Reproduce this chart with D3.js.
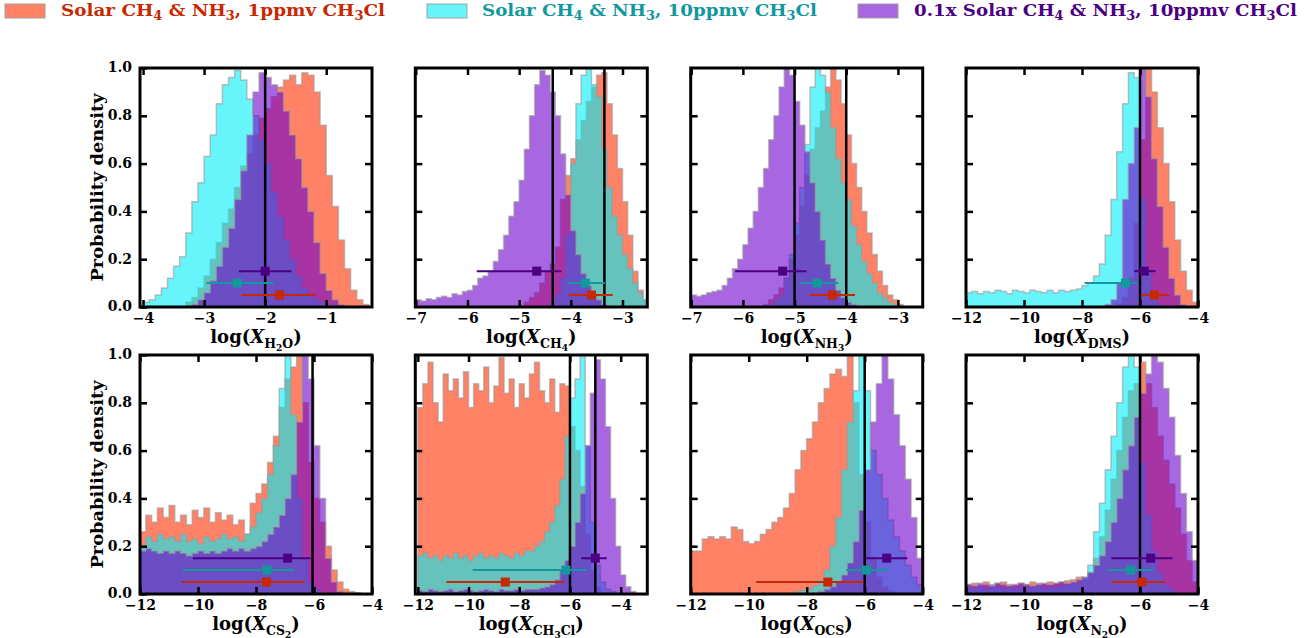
<!DOCTYPE html>
<html><head><meta charset="utf-8">
<script src="https://cdn.jsdelivr.net/npm/d3@7"></script>
<style>
body{margin:0;background:#fff}
svg{display:block}
text{font-family:"DejaVu Serif",serif;font-weight:bold}
</style>
</head><body><svg id="chart" width="1309" height="638"></svg>
<script>
// ---------------- DATA ----------------
const seriesNames = ["Solar CH4 & NH3, 1ppmv CH3Cl", "Solar CH4 & NH3, 10ppmv CH3Cl", "0.1x Solar CH4 & NH3, 10ppmv CH3Cl"];
const yTicks = [0, 0.2, 0.4, 0.6, 0.8, 1.0];
const errY = [0.05, 0.10, 0.15];

// H2O
const h2oDomain = [-4.05, -0.25];
const h2oTicks = [-4, -3, -2, -1];
const h2oLines = [-2.0];
const h2oWidth = 0.1;
const h2oStarts = [-3.3, -4.0, -3.2];
const h2oOrange = [0.02,0.04,0.08,0.13,0.2,0.27,0.35,0.41,0.5,0.59,0.64,0.72,0.79,0.83,0.88,0.92,0.95,0.97,0.93,0.98,0.97,0.9,0.76,0.55,0.42,0.28,0.16,0.07,0.03,0.01];
const h2oCyan = [0.02,0.03,0.05,0.08,0.12,0.17,0.21,0.31,0.44,0.52,0.63,0.72,0.85,0.93,0.96,0.99,0.95,0.87,0.8,0.7,0.6,0.48,0.38,0.28,0.2,0.13,0.08,0.05,0.03,0.02,0.01,0.005];
const h2oPurple = [0.01,0.03,0.06,0.11,0.17,0.25,0.33,0.45,0.57,0.72,0.9,0.98,0.96,0.93,0.9,0.82,0.72,0.62,0.5,0.4,0.27,0.14,0.07,0.03,0.01];
const h2oErr = [[-2.39,-1.76,-1.18],[-2.96,-2.46,-1.86],[-2.43,-2.0,-1.57]];

// CH4
const ch4Domain = [-7.01, -2.52];
const ch4Ticks = [-7, -6, -5, -4, -3];
const ch4Lines = [-4.35, -3.35];
const ch4Width = 0.1;
const ch4Starts = [-4.9, -4.4, -7.0];
const ch4Orange = [0.02,0.04,0.06,0.1,0.15,0.18,0.25,0.45,0.55,0.62,0.7,0.78,0.86,0.92,0.97,0.98,0.85,0.72,0.58,0.44,0.3,0.15,0.07,0.03];
const ch4Cyan = [0.02,0.05,0.12,0.3,0.6,0.85,0.97,1.0,0.93,0.88,0.66,0.5,0.38,0.3,0.22,0.16,0.1,0.06,0.03];
const ch4Purple = [0.03,0.025,0.035,0.03,0.04,0.045,0.04,0.055,0.05,0.065,0.07,0.09,0.12,0.13,0.15,0.19,0.24,0.3,0.38,0.44,0.53,0.66,0.8,0.93,0.99,0.97,0.9,0.8,0.64,0.47,0.32,0.22,0.14,0.09,0.05,0.03,0.01];
const ch4Err = [[-4.04,-3.6,-3.19],[-4.06,-3.72,-3.34],[-5.82,-4.66,-4.18]];

// NH3
const nh3Domain = [-7.01, -2.52];
const nh3Ticks = [-7, -6, -5, -4, -3];
const nh3Lines = [-5.0, -4.0];
const nh3Width = 0.1;
const nh3Starts = [-5.6, -5.5, -7.0];
const nh3Orange = [0.01,0.03,0.05,0.08,0.12,0.2,0.3,0.42,0.55,0.66,0.75,0.82,0.92,1.0,0.95,0.85,0.72,0.6,0.5,0.4,0.31,0.22,0.15,0.09,0.05,0.03,0.01];
const nh3Cyan = [0.01,0.03,0.05,0.12,0.22,0.35,0.5,0.68,0.92,1.0,0.97,0.9,0.75,0.62,0.52,0.45,0.34,0.26,0.19,0.14,0.1,0.06,0.04,0.02,0.01];
const nh3Purple = [0.05,0.045,0.05,0.06,0.065,0.07,0.09,0.12,0.16,0.2,0.26,0.33,0.4,0.5,0.58,0.7,0.8,0.92,1.0,0.97,0.86,0.76,0.65,0.52,0.4,0.28,0.18,0.12,0.07,0.04,0.02,0.01];
const nh3Err = [[-4.71,-4.27,-3.83],[-4.92,-4.56,-4.15],[-6.15,-5.23,-4.77]];

// DMS
const dmsDomain = [-12, -4];
const dmsTicks = [-12, -10, -8, -6, -4];
const dmsLines = [-6.0];
const dmsWidth = 0.2;
const dmsStarts = [-6.8, -12.0, -7.2];
const dmsOrange = [0.01,0.04,0.12,0.35,0.7,1.0,0.9,0.75,0.6,0.44,0.28,0.15,0.07,0.02];
const dmsCyan = [0.06,0.065,0.055,0.065,0.06,0.07,0.065,0.055,0.07,0.065,0.06,0.07,0.065,0.06,0.07,0.06,0.07,0.065,0.07,0.075,0.09,0.1,0.13,0.18,0.3,0.45,0.65,0.85,0.98,0.96,0.45,0.15,0.05,0.01];
const dmsPurple = [0.01,0.03,0.1,0.45,0.6,0.75,1.0,0.88,0.62,0.42,0.25,0.12,0.05,0.01];
const dmsErr = [[-5.94,-5.5,-5.0],[-7.91,-6.5,-6.08],[-6.2,-5.85,-5.46]];

// CS2
const cs2Domain = [-12, -4];
const cs2Ticks = [-12, -10, -8, -6, -4];
const cs2Lines = [-6.05];
const cs2Width = 0.2;
const cs2Starts = [-12.0, -12.0, -12.0];
const cs2Orange = [0.26,0.33,0.3,0.36,0.32,0.37,0.3,0.33,0.29,0.35,0.32,0.36,0.3,0.34,0.31,0.33,0.29,0.31,0.25,0.38,0.42,0.46,0.55,0.66,0.78,0.9,0.95,1.0,0.8,0.55,0.4,0.3,0.2,0.1,0.05,0.02,0.01,0.005];
const cs2Cyan = [0.2,0.24,0.22,0.25,0.23,0.24,0.22,0.25,0.22,0.23,0.21,0.24,0.22,0.23,0.25,0.23,0.24,0.22,0.25,0.28,0.34,0.4,0.5,0.62,0.86,1.0,0.75,0.4,0.15,0.05,0.02];
const cs2Purple = [0.18,0.19,0.18,0.17,0.18,0.17,0.18,0.17,0.16,0.17,0.18,0.17,0.18,0.17,0.18,0.19,0.18,0.19,0.18,0.19,0.2,0.22,0.25,0.28,0.33,0.4,0.5,0.72,1.0,0.9,0.62,0.4,0.15,0.05,0.01];
const cs2Err = [[-10.55,-7.64,-6.32],[-10.53,-7.62,-6.67],[-10.18,-6.91,-6.12]];

// CH3Cl
const ch3clDomain = [-12.1, -2.95];
const ch3clTicks = [-12, -10, -8, -6, -4];
const ch3clLines = [-6.0, -5.0];
const ch3clWidth = 0.2;
const ch3clStarts = [-12.0, -12.0, -12.0];
const ch3clOrange = [0.78,0.88,0.97,0.8,0.72,0.92,0.85,0.9,0.82,0.93,0.78,0.88,0.85,0.95,0.8,0.87,0.99,0.84,0.9,0.78,0.88,0.82,0.92,0.97,0.85,0.8,0.9,0.76,0.88,0.87,0.7,0.6,0.45,0.25,0.1,0.03];
const ch3clCyan = [0.16,0.17,0.15,0.16,0.14,0.16,0.15,0.17,0.15,0.16,0.14,0.16,0.17,0.15,0.16,0.15,0.17,0.16,0.15,0.17,0.16,0.18,0.18,0.2,0.22,0.26,0.3,0.37,0.48,0.66,0.82,0.9,1.0,0.62,0.3,0.12,0.05,0.02,0.01];
const ch3clPurple = [0.015,0.01,0.02,0.015,0.01,0.015,0.02,0.01,0.015,0.02,0.015,0.01,0.015,0.02,0.015,0.01,0.02,0.015,0.015,0.02,0.015,0.02,0.02,0.02,0.025,0.03,0.04,0.06,0.1,0.14,0.2,0.3,0.42,0.62,0.84,0.98,0.9,0.7,0.4,0.2,0.08,0.03,0.01];
const ch3clErr = [[-10.87,-8.55,-6.22],[-9.84,-6.16,-5.31],[-5.56,-5.0,-4.55]];

// OCS
const ocsDomain = [-12, -4];
const ocsTicks = [-12, -10, -8, -6, -4];
const ocsLines = [-6.0];
const ocsWidth = 0.2;
const ocsStarts = [-12.0, -8.4, -7.6];
const ocsOrange = [0.18,0.18,0.23,0.24,0.23,0.24,0.23,0.28,0.27,0.22,0.21,0.22,0.25,0.27,0.3,0.32,0.36,0.42,0.52,0.6,0.65,0.72,0.8,0.86,0.92,0.94,0.91,1.0,0.8,0.5,0.3,0.15,0.07,0.03,0.01];
const ocsCyan = [0.01,0.015,0.02,0.035,0.06,0.1,0.2,0.32,0.52,0.72,0.85,1.0,0.85,0.6,0.5,0.4,0.31,0.24,0.18,0.12,0.07,0.04];
const ocsPurple = [0.01,0.02,0.03,0.05,0.08,0.13,0.22,0.35,0.52,0.72,0.88,1.0,0.9,0.75,0.62,0.48,0.32,0.15];
const ocsErr = [[-9.74,-7.27,-6.05],[-6.64,-5.94,-5.21],[-5.97,-5.24,-4.53]];

// N2O
const n2oDomain = [-12, -4];
const n2oTicks = [-12, -10, -8, -6, -4];
const n2oLines = [-6.0];
const n2oWidth = 0.2;
const n2oStarts = [-12.0, -12.0, -12.0];
const n2oOrange = [0.04,0.045,0.035,0.05,0.04,0.045,0.05,0.04,0.035,0.045,0.04,0.05,0.045,0.04,0.05,0.045,0.05,0.055,0.06,0.07,0.06,0.09,0.15,0.24,0.35,0.48,0.6,0.74,0.85,0.88,0.97,0.88,0.78,0.66,0.56,0.46,0.36,0.25,0.14,0.05];
const n2oCyan = [0.03,0.025,0.03,0.02,0.035,0.03,0.025,0.03,0.02,0.03,0.025,0.03,0.035,0.025,0.03,0.03,0.035,0.04,0.045,0.05,0.07,0.12,0.26,0.38,0.52,0.66,0.8,0.95,1.0,0.95,0.55,0.33,0.18,0.09,0.04,0.02];
const n2oPurple = [0.04,0.035,0.045,0.04,0.035,0.045,0.04,0.035,0.04,0.045,0.04,0.035,0.04,0.045,0.04,0.045,0.05,0.045,0.05,0.06,0.07,0.09,0.12,0.16,0.22,0.3,0.4,0.52,0.62,0.74,0.84,0.92,1.0,0.97,0.86,0.74,0.58,0.42,0.26,0.14];
const n2oErr = [[-6.99,-5.94,-5.13],[-7.14,-6.32,-5.56],[-6.99,-5.63,-4.88]];

// species labels (subscript parts: [text, level])
const h2oLabel = [["H",1],["2",2],["O",1]];
const ch4Label = [["CH",1],["4",2]];
const nh3Label = [["NH",1],["3",2]];
const dmsLabel = [["DMS",1]];
const cs2Label = [["CS",1],["2",2]];
const ch3clLabel = [["CH",1],["3",2],["Cl",1]];
const ocsLabel = [["OCS",1]];
const n2oLabel = [["N",1],["2",2],["O",1]];

// ---------------- STYLE / LAYOUT ----------------
const fillColors = ["#ff2d00", "#00eef7", "#6e00cc"];
const errColors = ["#c82800", "#12979c", "#4b0082"];
const colX = [140, 415.3, 690.7, 966];
const rowY = [68, 355];
const PW = 232, PH = 239;

const panels = [
  {label:h2oLabel, domain:h2oDomain, ticks:h2oTicks, lines:h2oLines, w:h2oWidth, starts:h2oStarts, hists:[h2oOrange,h2oCyan,h2oPurple], err:h2oErr},
  {label:ch4Label, domain:ch4Domain, ticks:ch4Ticks, lines:ch4Lines, w:ch4Width, starts:ch4Starts, hists:[ch4Orange,ch4Cyan,ch4Purple], err:ch4Err},
  {label:nh3Label, domain:nh3Domain, ticks:nh3Ticks, lines:nh3Lines, w:nh3Width, starts:nh3Starts, hists:[nh3Orange,nh3Cyan,nh3Purple], err:nh3Err},
  {label:dmsLabel, domain:dmsDomain, ticks:dmsTicks, lines:dmsLines, w:dmsWidth, starts:dmsStarts, hists:[dmsOrange,dmsCyan,dmsPurple], err:dmsErr},
  {label:cs2Label, domain:cs2Domain, ticks:cs2Ticks, lines:cs2Lines, w:cs2Width, starts:cs2Starts, hists:[cs2Orange,cs2Cyan,cs2Purple], err:cs2Err},
  {label:ch3clLabel, domain:ch3clDomain, ticks:ch3clTicks, lines:ch3clLines, w:ch3clWidth, starts:ch3clStarts, hists:[ch3clOrange,ch3clCyan,ch3clPurple], err:ch3clErr},
  {label:ocsLabel, domain:ocsDomain, ticks:ocsTicks, lines:ocsLines, w:ocsWidth, starts:ocsStarts, hists:[ocsOrange,ocsCyan,ocsPurple], err:ocsErr},
  {label:n2oLabel, domain:n2oDomain, ticks:n2oTicks, lines:n2oLines, w:n2oWidth, starts:n2oStarts, hists:[n2oOrange,n2oCyan,n2oPurple], err:n2oErr},
];

const svg = d3.select("#chart");
const defs = svg.append("defs");

// ---------------- LEGEND ----------------
const legendSwX = [5, 427, 858];
const legendTxX = [61, 482, 914];
const legendLen = [324, 335, 383];
const legendParts = [
  [["Solar CH",0],["4",1],[" & NH",0],["3",1],[", 1ppmv CH",0],["3",1],["Cl",0]],
  [["Solar CH",0],["4",1],[" & NH",0],["3",1],[", 10ppmv CH",0],["3",1],["Cl",0]],
  [["0.1x Solar CH",0],["4",1],[" & NH",0],["3",1],[", 10ppmv CH",0],["3",1],["Cl",0]],
];
seriesNames.forEach((name, i) => {
  svg.append("rect").attr("x", legendSwX[i]).attr("y", 4).attr("width", 40).attr("height", 14)
    .attr("fill", fillColors[i]).attr("fill-opacity", 0.6)
    .attr("stroke", "#999").attr("stroke-opacity", 0.6).attr("stroke-width", 1.5);
  const t = svg.append("text").attr("x", legendTxX[i]).attr("y", 16)
    .attr("fill", errColors[i]).attr("font-size", 17)
    .attr("textLength", legendLen[i]).attr("lengthAdjust", "spacingAndGlyphs");
  let cur = 0;
  legendParts[i].forEach(([s, lvl]) => {
    const off = lvl ? 4 : 0;
    t.append("tspan").attr("dy", off - cur).attr("font-size", lvl ? 12 : 17).text(s);
    cur = off;
  });
});

// ---------------- PANELS ----------------
panels.forEach((p, k) => {
  const col = k % 4, row = Math.floor(k / 4);
  const x0 = colX[col], y0 = rowY[row];
  const g = svg.append("g").attr("transform", `translate(${x0},${y0})`);
  const x = d3.scaleLinear().domain(p.domain).range([0, PW]);
  const y = d3.scaleLinear().domain([0, 1]).range([PH, 0]);

  const cid = "clip" + k;
  defs.append("clipPath").attr("id", cid).append("rect").attr("width", PW).attr("height", PH);
  const plot = g.append("g").attr("clip-path", `url(#${cid})`);

  const line = d3.line().x(d => x(d[0])).y(d => y(d[1]));
  p.hists.forEach((vals, i) => {
    const st = p.starts[i];
    const pts = [[st, 0]];
    vals.forEach((v, j) => { pts.push([st + j * p.w, v]); pts.push([st + (j + 1) * p.w, v]); });
    pts.push([st + vals.length * p.w, 0]);
    plot.append("path").attr("d", line(pts) + "Z")
      .attr("fill", fillColors[i]).attr("fill-opacity", 0.6)
      .attr("stroke", "#999").attr("stroke-opacity", 0.6).attr("stroke-width", 1.5)
      .attr("stroke-linejoin", "miter");
  });

  // reference lines
  p.lines.forEach(v => {
    plot.append("line").attr("x1", x(v)).attr("x2", x(v)).attr("y1", 0).attr("y2", PH)
      .attr("stroke", "#000").attr("stroke-width", 2.5);
  });

  // error bars
  p.err.forEach((e, i) => {
    plot.append("line").attr("x1", x(e[0])).attr("x2", x(e[2])).attr("y1", y(errY[i])).attr("y2", y(errY[i]))
      .attr("stroke", errColors[i]).attr("stroke-width", 2);
    plot.append("rect").attr("x", x(e[1]) - 4.5).attr("y", y(errY[i]) - 4.5).attr("width", 9).attr("height", 9)
      .attr("fill", errColors[i]);
  });

  // axes
  const tickFmt = d3.format("d");
  const axB = g.append("g").attr("transform", `translate(0,${PH})`)
    .call(d3.axisBottom(x).tickValues(p.ticks).tickSize(-7).tickPadding(6).tickFormat(tickFmt));
  const axT = g.append("g").call(d3.axisTop(x).tickValues(p.ticks).tickSize(-7).tickFormat(""));
  const yt = yTicks.slice(1, -1);
  const axL = g.append("g").call(d3.axisLeft(y).tickValues(col === 0 ? yTicks : yt).tickSize(-7).tickPadding(8)
    .tickFormat(col === 0 ? d3.format(".1f") : ""));
  const axR = g.append("g").attr("transform", `translate(${PW},0)`)
    .call(d3.axisRight(y).tickValues(yt).tickSize(-7).tickFormat(""));
  [axB, axT, axL, axR].forEach(a => {
    a.select(".domain").remove();
    a.selectAll(".tick line").attr("stroke", "#000").attr("stroke-width", 2.5);
    a.selectAll(".tick text").attr("font-size", 14).attr("fill", "#000")
      .attr("font-family", "DejaVu Serif").attr("font-weight", "bold");
  });
  axL.selectAll(".tick text").attr("dy", "0.28em");

  // frame
  g.append("rect").attr("width", PW).attr("height", PH).attr("fill", "none")
    .attr("stroke", "#000").attr("stroke-width", 3);

  // x label
  const t = g.append("text").attr("x", PW / 2).attr("y", PH + 36).attr("text-anchor", "middle")
    .attr("font-size", 18).attr("fill", "#000");
  t.append("tspan").text("log(");
  t.append("tspan").attr("font-style", "italic").text("X");
  let cur = 0;
  const offs = [0, 4.5, 7.5], sizes = [18, 12.5, 9];
  p.label.forEach(([s, lvl]) => {
    t.append("tspan").attr("dy", offs[lvl] - cur).attr("font-size", sizes[lvl]).text(s);
    cur = offs[lvl];
  });
  t.append("tspan").attr("dy", -cur).text(")");

  // y label
  if (col === 0) {
    g.append("text").attr("transform", `translate(-37,${PH / 2}) rotate(-90)`)
      .attr("text-anchor", "middle").attr("font-size", 17).attr("fill", "#000")
      .attr("textLength", 188).attr("lengthAdjust", "spacingAndGlyphs")
      .text("Probability density");
  }
});
</script>
</body></html>
